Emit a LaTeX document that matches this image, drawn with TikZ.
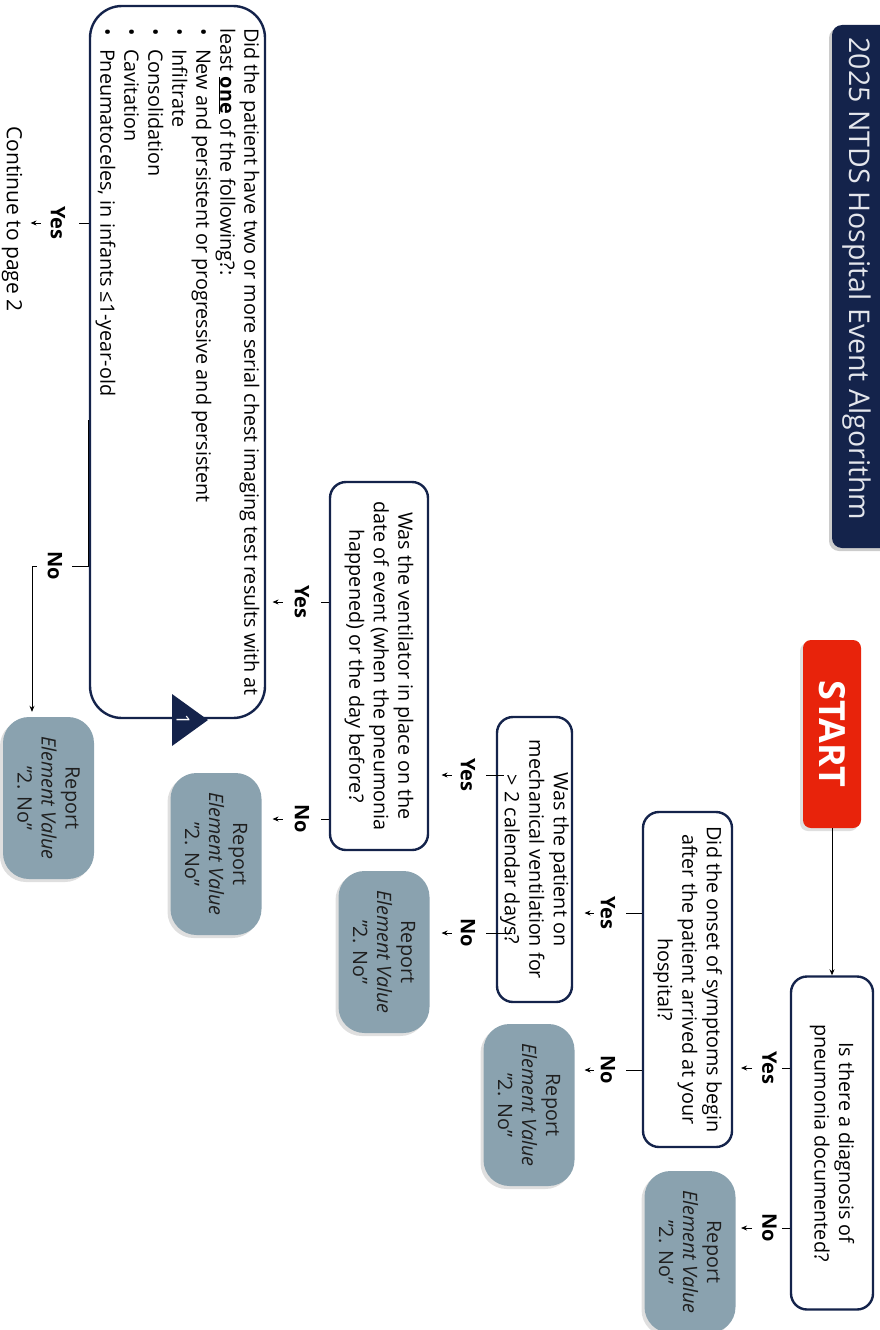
\documentclass[tikz,border=0pt]{standalone}
\usepackage{fontspec}
\setmainfont{Open Sans}
\usetikzlibrary{arrows.meta,shadows,calc}
\definecolor{navy}{HTML}{14234B}
\definecolor{startred}{HTML}{E8230B}
\definecolor{repfill}{HTML}{8AA2AF}
\definecolor{titletext}{HTML}{E4E6EC}
\newcommand\bitem[1]{\makebox[21pt][l]{•}#1}
\begin{document}
\begin{tikzpicture}[x=1pt,y=-1pt,
  rot/.style={rotate=-90},
  softshadow/.style={drop shadow={opacity=0.25, shadow xshift=-3pt, shadow yshift=-3pt}},
  qbox/.style={rot, draw=navy, line width=2.4pt, rounded corners=16pt, fill=white,
    align=center, inner sep=0pt, font=\fontsize{19.8}{24.5}\selectfont},
  rbox/.style={rot, fill=repfill, rounded corners=26pt, align=center, inner sep=0pt,
    minimum width=162pt, minimum height=91pt, text=black!88,
    font=\fontsize{19.8}{24}\selectfont, softshadow},
  lbl/.style={rot, inner sep=0pt, font=\bfseries\fontsize{20}{24}\selectfont},
  conn/.style={line width=0.8pt, black},
  arr/.style={conn, -{Stealth[length=6pt,width=5pt]}}]
\useasboundingbox (0,0) rectangle (880,1330);
\clip (0,0) rectangle (880,1330);

% title
\fill[black, opacity=0.2, rounded corners=10pt] (829,28) rectangle (895,551);
\fill[navy, rounded corners=10pt] (832,25) rectangle (895,548);
\node[rot, text=titletext, font=\fontsize{28.5}{32}\selectfont, inner sep=0pt] (title) at (857,279) {2025 NTDS Hospital Event Algorithm};

% start
\node[rot, fill=startred, rounded corners=8pt, minimum width=188pt, minimum height=58pt,
  text=white, font=\bfseries\fontsize{36}{40}\selectfont, inner sep=0pt, softshadow] (start) at (832,734) {START};

% question boxes
\node[qbox, minimum width=333pt, minimum height=82pt] (b1) at (832,1143) {Is there a diagnosis of\\pneumonia documented?};
\node[qbox, minimum width=335pt, minimum height=89pt] (b2) at (687.5,979.5) {Did the onset of symptoms begin\\after the patient arrived at your\\hospital?};
\node[qbox, minimum width=285pt, minimum height=75pt] (b3) at (534.5,859.5) {Was the patient on\\mechanical ventilation for\\> 2 calendar days?};
\node[qbox, minimum width=368pt, minimum height=98pt] (b4) at (379,666) {Was the ventilator in place on the\\date of event (when the pneumonia\\happened) or the day before?};
\node[qbox, rounded corners=32pt, minimum width=712pt, minimum height=175pt, align=left,
  font=\fontsize{19.8}{24}\selectfont] (b5) at (177.5,362) {Did the patient have two or more serial chest imaging test results with at\\
least \underline{\textbf{one}} of the following?:\\
\bitem{New and persistent or progressive and persistent}\\
\bitem{Infiltrate}\\
\bitem{Consolidation}\\
\bitem{Cavitation}\\
\bitem{Pneumatoceles, in infants ≤1-year-old}};

% page connector marker
\fill[navy] (172,694) -- (172,746) -- (208,720) -- cycle;
\node[rot, text=white, font=\fontsize{18}{20}\selectfont, inner sep=0pt] (one) at (183,720) {1};

% report boxes
\node[rbox] (r1) at (690,1252) {Report\\\textit{Element Value}\\”2. No”};
\node[rbox] (r2) at (529,1105) {Report\\\textit{Element Value}\\”2. No”};
\node[rbox] (r3) at (384,952) {Report\\\textit{Element Value}\\”2. No”};
\node[rbox] (r4) at (216,854) {Report\\\textit{Element Value}\\”2. No”};
\node[rbox] (r5) at (48.5,798) {Report\\\textit{Element Value}\\”2. No”};

% labels
\node[lbl] (y1) at (769.5,1068) {Yes};
\node[lbl] (n1) at (769.5,1228) {No};
\node[lbl] (y2) at (608,913) {Yes};
\node[lbl] (n2) at (608,1070) {No};
\node[lbl] (y3) at (468,775) {Yes};
\node[lbl] (n3) at (468,933) {No};
\node[lbl] (y4) at (302,602) {Yes};
\node[lbl] (n4) at (302,819) {No};
\node[lbl] (y5) at (58,223) {Yes};
\node[lbl] (n5) at (55,566) {No};
\node[rot, inner sep=0pt, font=\fontsize{21}{24}\selectfont] (cont) at (12,219) {Continue to page 2};

% connectors
\draw[arr] (start.east) -- (b1.west);

\draw[conn] (b1.south |- y1) -- ++(-8,0);
\draw[arr] (y1.south) ++(-10,0) -- ++(-11,0);
\draw[conn] (b1.south |- n1) -- ++(-8,0);
\draw[arr] (n1.south) ++(-10,0) -- ++(-11,0);

\draw[conn] (b2.south |- y2) -- ++(-16,0);
\draw[arr] (y2.south) ++(-7,0) -- ++(-9,0);
\draw[conn] (b2.south |- n2) -- ++(-16,0);
\draw[arr] (n2.south) ++(-7,0) -- ++(-9,0);

\draw[conn] ([xshift=8pt]b3.south |- y3) -- ++(-18,0);
\draw[arr] (y3.south) ++(-9,0) -- ++(-10,0);
\draw[conn] ([xshift=16pt]b3.south |- n3) -- ++(-26,0);
\draw[arr] (n3.south) ++(-9,0) -- ++(-10,0);

\draw[conn] (b4.south |- y4) -- ++(-8,0);
\draw[arr] (y4.south) ++(-12,0) -- ++(-10,0);
\draw[conn] (b4.south |- n4) -- ++(-8,0);
\draw[arr] (n4.south) ++(-12,0) -- ++(-10,0);

\draw[conn] (b5.south |- y5) -- ++(-10,0);
\draw[arr] (y5.south) ++(-10,0) -- ++(-10,0);

\coordinate (c5) at (32,566);
\draw[conn] (b5.south |- 0,420) -- (b5.south |- n5) -- ++(-17,0);
\draw[arr] (n5.south) ++(-11,0) -- (c5) -- ($(c5 |- r5.west)+(0,-5)$);
\end{tikzpicture}
\end{document}
